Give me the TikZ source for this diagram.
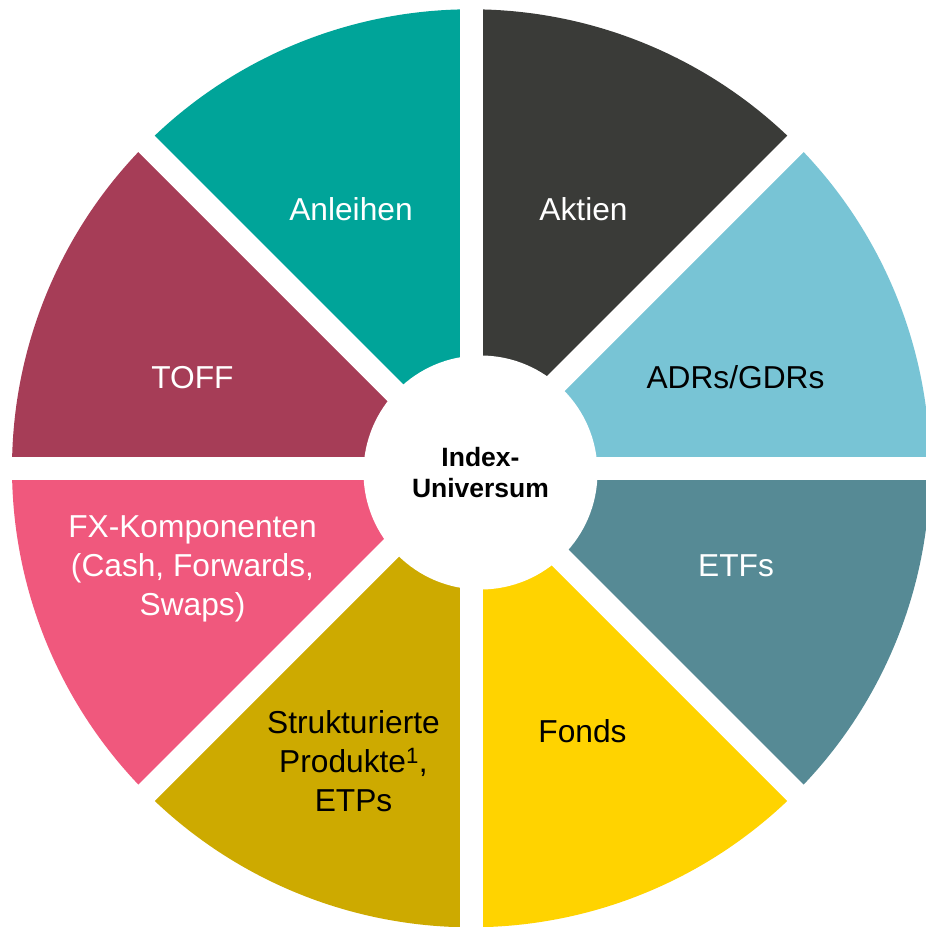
\documentclass[tikz,border=0pt]{standalone}
\usepackage{fontspec}
\setmainfont{Liberation Sans}
\usetikzlibrary{calc}
\definecolor{cAnl}{HTML}{00A499}
\definecolor{cAkt}{HTML}{3A3B38}
\definecolor{cADR}{HTML}{78C4D5}
\definecolor{cETF}{HTML}{568A95}
\definecolor{cFon}{HTML}{FFD300}
\definecolor{cStr}{HTML}{CDAA00}
\definecolor{cFX}{HTML}{F0587D}
\definecolor{cTOF}{HTML}{A63D57}
\begin{document}
\begin{tikzpicture}[x=1pt,y=1pt,
  lbl/.style={font=\fontsize{31.7}{39}\selectfont, inner sep=0pt, align=center},
  gapband/.style={white, line width=23pt},
  wedge/.style={fill=#1}]
\useasboundingbox (0,0) rectangle (926,927);
\fill[white] (0,0) rectangle (926,927);
\clip (0,0) rectangle (926,927);
\coordinate (C) at (471,458.7);
\def\R{459}
% segments
\fill[cAkt] (C) -- ++(45:\R) arc[start angle=45,end angle=90,radius=\R] -- cycle;
\fill[cAnl] (C) -- ++(90:\R) arc[start angle=90,end angle=135,radius=\R] -- cycle;
\fill[cTOF] (C) -- ++(135:\R) arc[start angle=135,end angle=180,radius=\R] -- cycle;
\fill[cFX] (C) -- ++(180:\R) arc[start angle=180,end angle=225,radius=\R] -- cycle;
\fill[cStr] (C) -- ++(225:\R) arc[start angle=225,end angle=270,radius=\R] -- cycle;
\fill[cFon] (C) -- ++(270:\R) arc[start angle=270,end angle=315,radius=\R] -- cycle;
\fill[cETF] (C) -- ++(315:\R) arc[start angle=315,end angle=360,radius=\R] -- cycle;
\fill[cADR] (C) -- ++(0:\R) arc[start angle=0,end angle=45,radius=\R] -- cycle;
% white gaps
\draw[gapband] ($(C)+(0:500)$) -- ($(C)+(180:500)$);
\draw[gapband] ($(C)+(90:500)$) -- ($(C)+(270:500)$);
\draw[gapband] ($(C)+(45:500)$) -- ($(C)+(225:500)$);
\draw[gapband] ($(C)+(135:500)$) -- ($(C)+(315:500)$);
% centre disc
\coordinate (W) at (480.5,454.5);
\fill[white] (W) circle (117);
\node[inner sep=0pt, align=center, font=\fontsize{26.5}{31.7}\selectfont\bfseries] (idx) at (W) {Index-\\Universum};
% labels
\node[lbl, anchor=base, text=white] (anl) at (351,706) {Anleihen};
\node[lbl, anchor=base, text=white] (akt) at (583.5,706) {Aktien};
\node[lbl, anchor=base, text=black] (adr) at (735.5,538) {ADRs/GDRs};
\node[lbl, anchor=base, text=white] (tof) at (192.5,538) {TOFF};
\node[lbl, anchor=base, text=white] (etf) at (736,350) {ETFs};
\node[lbl, anchor=base, text=black] (fon) at (582.5,184) {Fonds};
\node[lbl, text=white] (fx) at (192.5,358) {FX-Komponenten\\(Cash, Forwards,\\Swaps)};
\node[lbl, text=black] (str) at (353.5,166) {Strukturierte\\Produkte\textsuperscript{1},\\ETPs};
\end{tikzpicture}
\end{document}
